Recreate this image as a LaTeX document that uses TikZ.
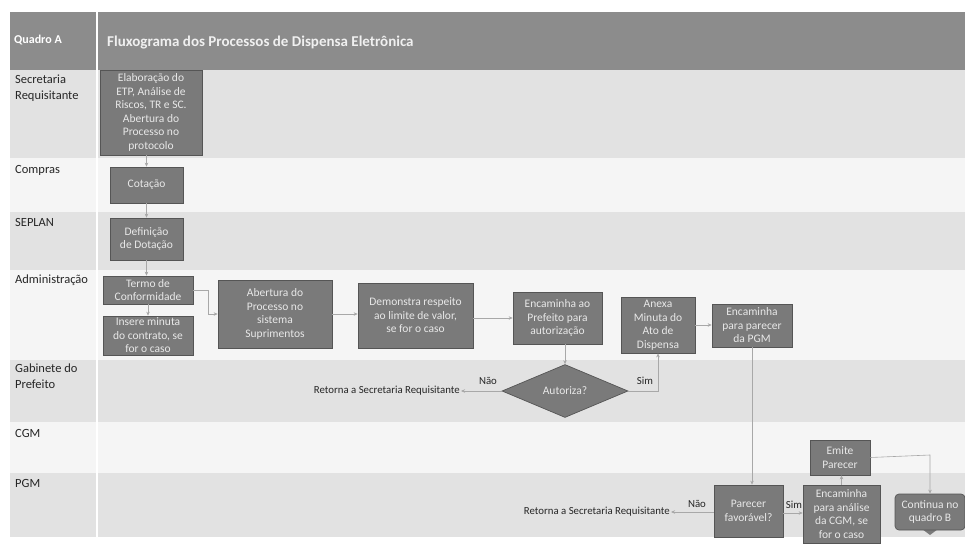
\documentclass[tikz,border=0pt]{standalone}
\usepackage{fontspec}
\setmainfont{Carlito}
\usetikzlibrary{shapes.geometric,calc,arrows.meta}
\definecolor{hdr}{HTML}{8C8C8C}
\definecolor{laneA}{HTML}{E2E2E2}
\definecolor{laneB}{HTML}{F5F5F5}
\definecolor{boxfill}{HTML}{7A7A7A}
\definecolor{boxborder}{HTML}{555555}
\definecolor{boxtext}{HTML}{E8E8E8}
\definecolor{conn}{HTML}{A8A8A8}
\begin{document}
\begin{tikzpicture}[x=1pt,y=-1pt,
  box/.style={draw=boxborder, line width=0.7pt, fill=boxfill, text=boxtext, align=center,
    font=\fontsize{11.5}{13.5}\selectfont, inner sep=0.5pt},
  arr/.style={draw=conn, line width=0.6pt, -{Stealth[length=4pt,width=3.5pt]}},
  lanelab/.style={anchor=north west, align=left, font=\fontsize{12.5}{16}\selectfont, text=black!85, inner sep=0pt},
  small/.style={font=\fontsize{10.8}{12}\selectfont, text=black!85, inner sep=1pt}]
\useasboundingbox (0,0) rectangle (965,543);
\fill[white] (0,0) rectangle (965,543);
% header
\fill[hdr] (10,12) rectangle (965,70);
\node[anchor=west, inner sep=0pt, text=white, font=\bfseries\fontsize{12}{14}\selectfont] (quadro) at (14,40) {Quadro A};
\node[anchor=west, inner sep=0pt, text=white!94!black, font=\bfseries\fontsize{15}{18}\selectfont] (title) at (107,43) {Fluxograma dos Processos de Dispensa Eletrônica};
% lanes
\fill[laneA] (10,70) rectangle (965,158);
\fill[laneB] (10,158) rectangle (965,212);
\fill[laneA] (10,212) rectangle (965,270);
\fill[laneB] (10,270) rectangle (965,360);
\fill[laneA] (10,360) rectangle (965,422);
\fill[laneB] (10,422) rectangle (965,473);
\fill[laneA] (10,473) rectangle (965,537);
\draw[white, line width=1.2pt] (97,12) -- (97,537);
\node[lanelab] (l1) at (15,75) {Secretaria\\Requisitante};
\node[lanelab] (l2) at (15,165) {Compras};
\node[lanelab] (l3) at (15,218) {SEPLAN};
\node[lanelab] (l4) at (15,275) {Administração};
\node[lanelab] (l5) at (15,364) {Gabinete do\\Prefeito};
\node[lanelab] (l6) at (15,429) {CGM};
\node[lanelab] (l7) at (15,479) {PGM};
% boxes
\node[box, minimum width=102, minimum height=85] (elab) at (151,112.5) {Elaboração do\\ETP, Análise de\\Riscos, TR e SC.\\Abertura do\\Processo no\\protocolo};
\node[box, minimum width=73, minimum height=36] (cot) at (146.5,185) {Cotação};
\node[box, minimum width=73, minimum height=42] (def) at (146.5,239) {Definição\\de Dotação};
\node[box, minimum width=90, minimum height=28] (termo) at (148,290) {Termo de\\Conformidade};
\node[box, minimum width=90, minimum height=39] (insere) at (148,335.5) {Insere minuta\\do contrato, se\\for o caso};
\node[box, minimum width=114, minimum height=68] (abert) at (275,314) {Abertura do\\Processo no\\sistema\\Suprimentos};
\node[box, minimum width=115, minimum height=65] (demo) at (415.5,315.5) {Demonstra respeito\\ao limite de valor,\\se for o caso};
\node[box, minimum width=89, minimum height=52] (encpref) at (557.5,318) {Encaminha ao\\Prefeito para\\autorização};
\node[box, minimum width=74, minimum height=56] (anexa) at (658,325) {Anexa\\Minuta do\\Ato de\\Dispensa};
\node[box, minimum width=80, minimum height=43] (encpgm) at (752,325.5) {Encaminha\\para parecer\\da PGM};
\node[box, shape=diamond, minimum width=126, minimum height=53, inner sep=0pt] (aut) at (565,391) {Autoriza?};
\node[box, minimum width=69, minimum height=52] (parecer) at (748.5,511) {Parecer\\favorável?};
\node[box, minimum width=77, minimum height=58] (enccgm) at (841.5,514) {Encaminha\\para análise\\da CGM, se\\for o caso};
\node[box, minimum width=60, minimum height=35] (emite) at (840,457.5) {Emite\\Parecer};
\fill[boxfill] (922,529) -- (930,535) -- (938,529) -- cycle;
\node[box, rounded corners=4pt, minimum width=70, minimum height=36] (cont) at (930,512) {Continua no\\quadro B};
% texts
\node[small, anchor=east] (ret1) at (461,391) {Retorna a Secretaria Requisitante};
\node[small, anchor=east] (ret2) at (671,512) {Retorna a Secretaria Requisitante};
\node[small] (nao1) at (488,381) {Não};
\node[small] (sim1) at (645,381) {Sim};
\node[small] (nao2) at (697,504) {Não};
\node[small] (sim2) at (794,505) {Sim};
% connectors
\draw[arr] (cot.north |- elab.south) -- (cot.north);
\draw[arr] (cot.south) -- (def.north);
\draw[arr] (def.south) -- (def.south |- termo.north);
\draw[arr] (termo.south) -- (insere.north);
\coordinate (j1) at (208,290);
\draw[arr] (termo.east) -- (j1) -- (j1 |- abert.west) -- (abert.west);
\draw[arr] (abert.east) -- (abert.east -| demo.west);
\draw[arr] (demo.east |- encpref.west) -- (encpref.west);
\draw[arr] (anexa.east) -- (anexa.east -| encpgm.west);
\draw[arr] (aut.north |- encpref.south) -- (aut.north);
\draw[arr] (aut.west) -- (ret1.east);
\coordinate (j2) at (658,391);
\draw[arr] (aut.east) -- (j2) -- (anexa.south);
\draw[arr] (encpgm.south) -- (encpgm.south |- parecer.north);
\draw[arr] (parecer.west |- ret2.east) -- (ret2.east);
\draw[arr] (parecer.east |- 0,513) -- (enccgm.west |- 0,513);
\draw[arr] (enccgm.north) -- (enccgm.north |- emite.south);
\coordinate (j3) at (930,455);
\draw[arr] (emite.east) -- (j3) -- (cont.north);
\end{tikzpicture}
\end{document}
